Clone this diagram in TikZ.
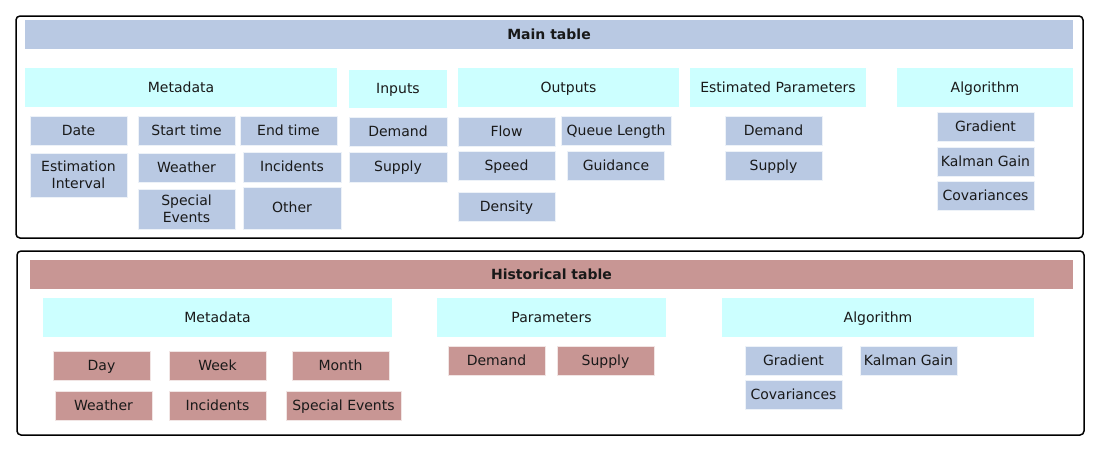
\documentclass[tikz,border=0pt]{standalone}
\usepackage{fontspec}
\setmainfont{DejaVu Sans}
\definecolor{bluegray}{RGB}{185,201,227}
\definecolor{lightcyan}{RGB}{204,255,255}
\definecolor{rose}{RGB}{200,150,148}
\begin{document}
\begin{tikzpicture}
    [
        x=1pt, y=-1pt,
        every node/.style={font=\fontsize{14}{15.5}\selectfont, text=black!90, inner sep=0pt,
            text height=0.95em, text depth=0pt},
        twoline/.style={align=center, text height=, text depth=, font=\fontsize{14}{17}\selectfont},
        frame/.style={draw, line width=1.5pt, rounded corners=4pt},
        title/.style={fill=bluegray, minimum height=29pt, font=\fontsize{14}{15.5}\selectfont\bfseries},
        header/.style={fill=lightcyan, minimum height=39pt},
        leaf/.style={fill=bluegray, draw=white!75!bluegray, line width=0.6pt, minimum width=97pt, minimum height=29pt},
        hleaf/.style={leaf, fill=rose, draw=white!75!rose},
    ]

    \useasboundingbox (0,0) rectangle (1100,450);

    % main table
    \node (main)  at (549.5,127)  [frame, minimum width=1067pt, minimum height=222pt] {};
    \node (mtitle) at (549,34.5) [title, minimum width=1048pt] {Main table};

    \node (meta)  at (181,87.5)  [header, minimum width=312pt] {Metadata};
    \node (inp)   at (398,89)    [header, minimum width=98pt, minimum height=38pt] {Inputs};
    \node (outp)  at (568.5,87.5) [header, minimum width=221pt] {Outputs};
    \node (estp)  at (778,87.5)  [header, minimum width=176pt] {Estimated Parameters};
    \node (alg)   at (985,87.5)  [header, minimum width=176pt] {Algorithm};

    \node (date)  at (78.5,130.5)  [leaf] {Date};
    \node (start) at (186.5,130.5) [leaf] {Start time};
    \node (end)   at (288.5,130.5) [leaf] {End time};
    \node (intv)  at (78.5,175)    [leaf, twoline, minimum height=44pt] {Estimation\\Interval};
    \node (wthr)  at (186.5,167.5) [leaf] {Weather};
    \node (inc)   at (292,167)     [leaf, minimum width=98pt, minimum height=30pt] {Incidents};
    \node (spec)  at (186.5,209)   [leaf, twoline, minimum height=40pt] {Special\\Events};
    \node (oth)   at (292,208)     [leaf, minimum width=98pt, minimum height=42pt] {Other};

    \node (idem)  at (398,131.5)   [leaf, minimum width=98pt] {Demand};
    \node (isup)  at (398,167)     [leaf, minimum width=98pt, minimum height=30pt] {Supply};

    \node (flow)  at (506.5,131.5) [leaf] {Flow};
    \node (queue) at (616,130.5)   [leaf, minimum width=110pt] {Queue Length};
    \node (speed) at (506.5,165.5) [leaf] {Speed};
    \node (guid)  at (616,165.5)   [leaf] {Guidance};
    \node (dens)  at (506.5,206.5) [leaf] {Density};

    \node (edem)  at (773.5,130.5) [leaf] {Demand};
    \node (esup)  at (773.5,165.5) [leaf] {Supply};

    \node (grad)  at (985.5,127)   [leaf] {Gradient};
    \node (kal)   at (985.5,161.5) [leaf] {Kalman Gain};
    \node (cov)   at (985.5,195.5) [leaf] {Covariances};

    % historical table
    \node (hist)   at (550.5,343)  [frame, minimum width=1067pt, minimum height=184pt] {};
    \node (htitle) at (551.5,274.5) [title, fill=rose, minimum width=1043pt] {Historical table};

    \node (hmeta) at (217.5,317.5) [header, minimum width=349pt] {Metadata};
    \node (hpar)  at (551.5,317.5) [header, minimum width=229pt] {Parameters};
    \node (halg)  at (878,317.5)   [header, minimum width=312pt] {Algorithm};

    \node (day)   at (101.5,365.5) [hleaf] {Day};
    \node (week)  at (217.5,365.5) [hleaf] {Week};
    \node (month) at (340.5,365.5) [hleaf] {Month};
    \node (hwthr) at (103.5,405.5) [hleaf] {Weather};
    \node (hinc)  at (217.5,405.5) [hleaf] {Incidents};
    \node (hspec) at (343.5,405.5) [hleaf, minimum width=115pt] {Special Events};

    \node (hdem)  at (496.5,360.5) [hleaf] {Demand};
    \node (hsup)  at (605.5,360.5) [hleaf] {Supply};

    \node (hgrad) at (793.5,360.5) [leaf] {Gradient};
    \node (hkal)  at (908.5,360.5) [leaf] {Kalman Gain};
    \node (hcov)  at (793.5,394.5) [leaf] {Covariances};

\end{tikzpicture}
\end{document}
